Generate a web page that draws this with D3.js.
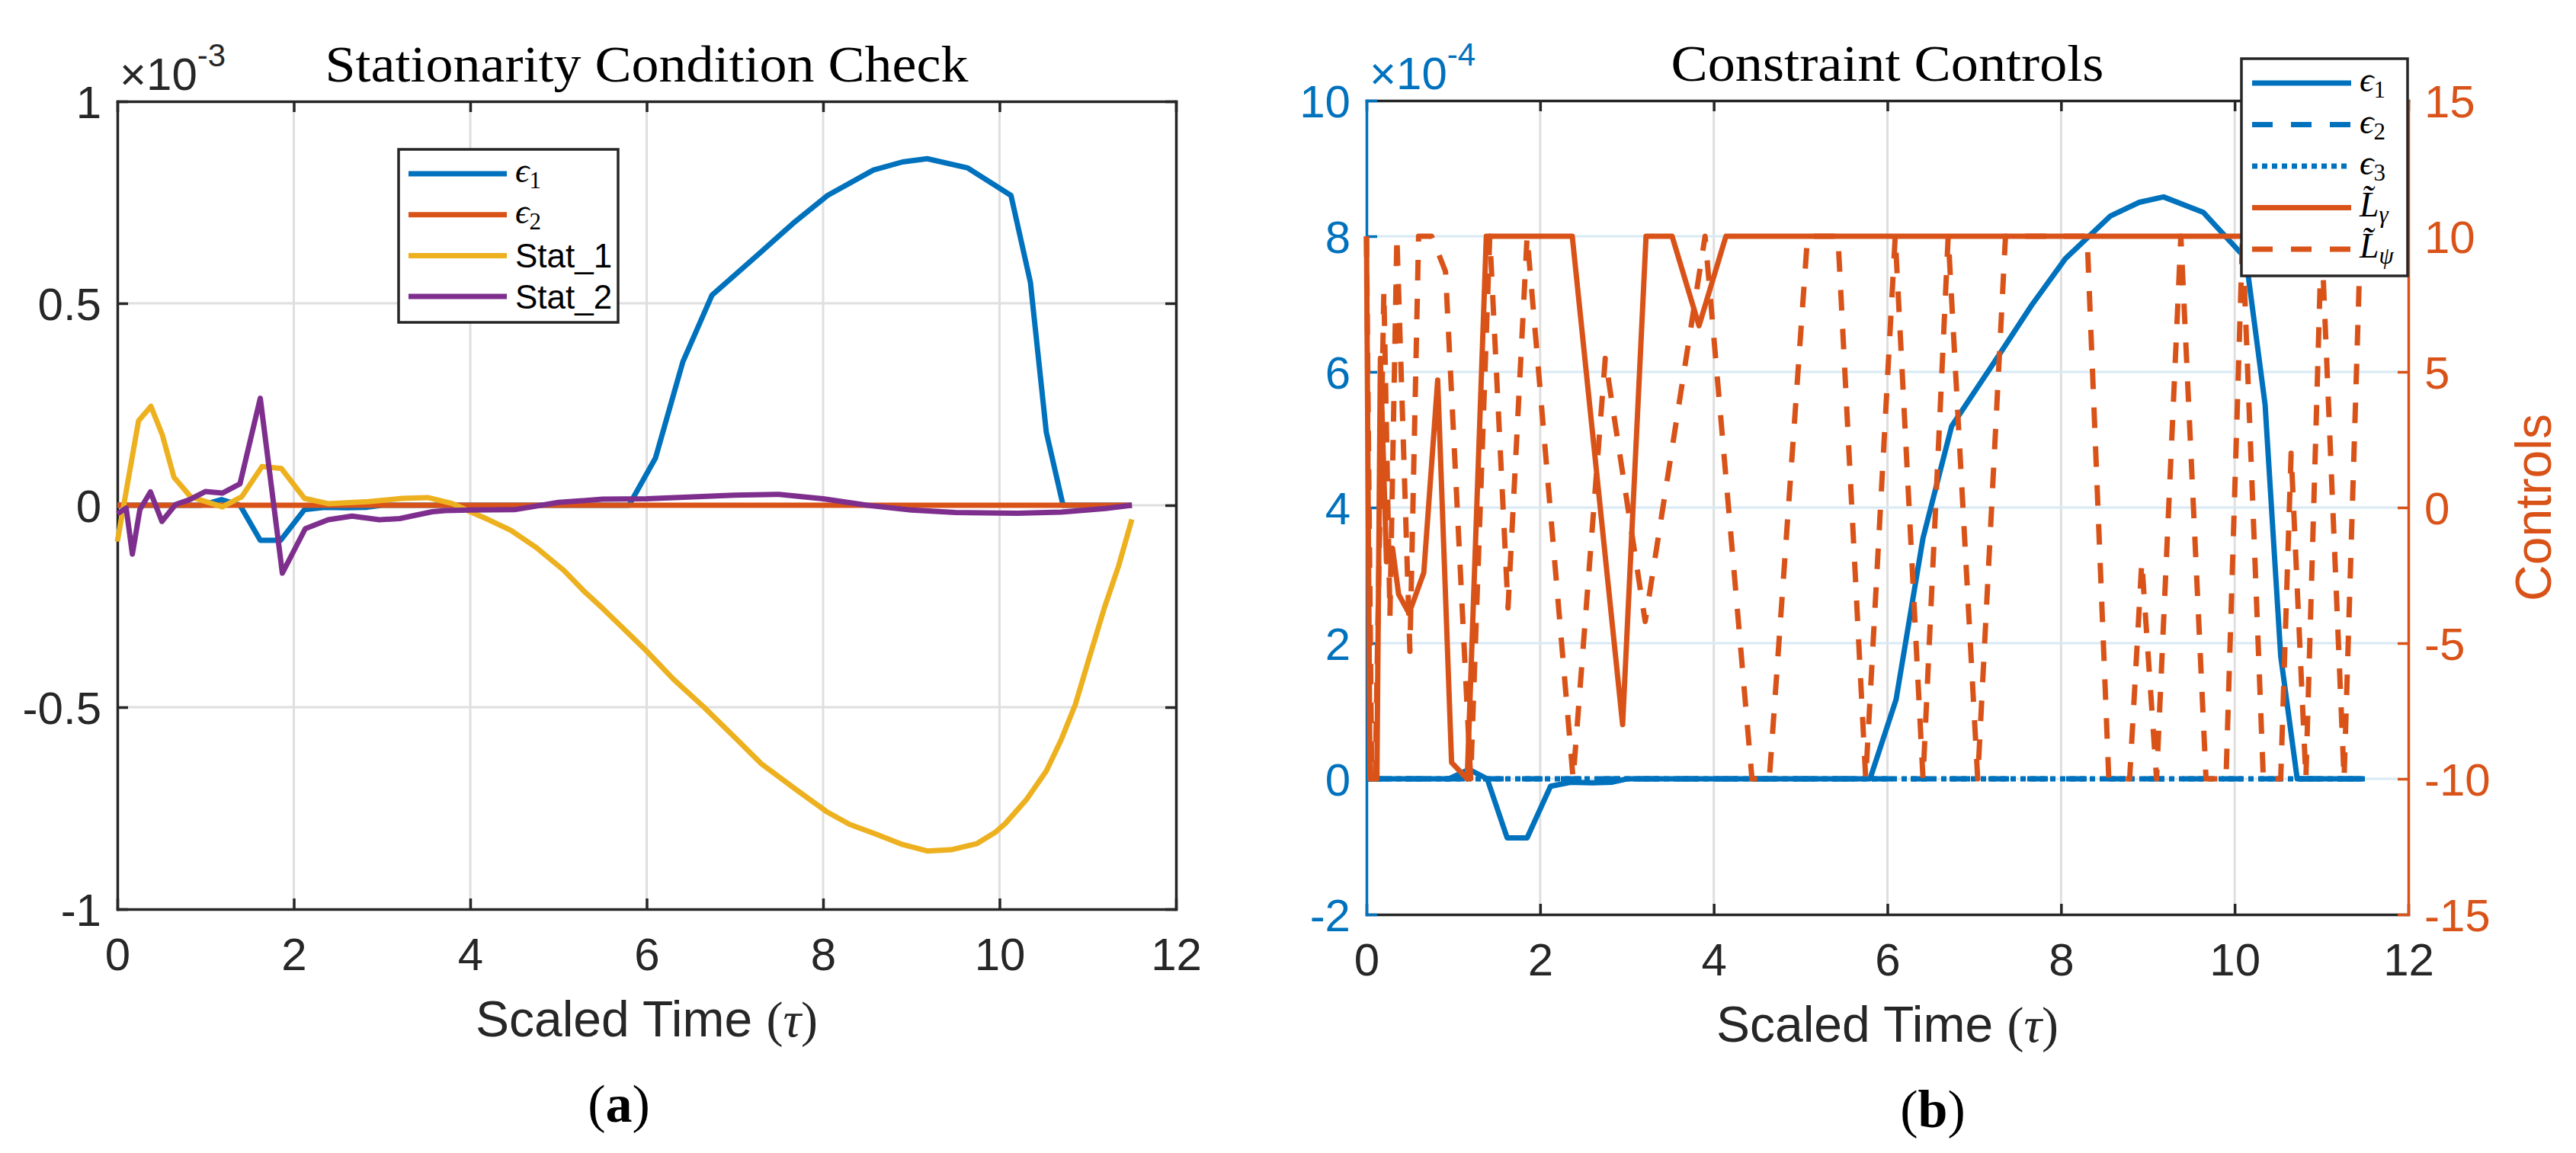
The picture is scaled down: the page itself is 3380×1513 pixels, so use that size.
<!DOCTYPE html>
<html>
<head>
<meta charset="utf-8">
<script src="https://cdn.jsdelivr.net/npm/d3@7"></script>
<style>
body { margin: 0; background: #fff; }
text { font-family: "Liberation Sans", Arial, sans-serif; fill: #262626; }
.serif { font-family: "Liberation Serif", "DejaVu Serif", serif; }
</style>
</head>
<body>
<div id="wrapper"></div>
<script>
// ---- tick values
const timeTicks = [0, 2, 4, 6, 8, 10, 12];
const statTicks = [-1, -0.5, 0, 0.5, 1];
const ctrlLeftTicks = [-2, 0, 2, 4, 6, 8, 10];
const ctrlRightTicks = [-15, -10, -5, 0, 5, 10, 15];

// ---- panel (a), values in units of 1e-3
const eps1T = [0, 0.95, 1.18, 1.39, 1.62, 1.85, 2.12, 2.35, 2.6, 2.83, 3.0, 5.8, 6.1, 6.41, 6.74, 7.26, 7.66, 8.05, 8.57, 8.9, 9.18, 9.64, 10.13, 10.35, 10.53, 10.72, 11.5];
const eps1V = [0, 0, 0.014, 0, -0.087, -0.087, -0.011, -0.005, -0.006, -0.005, 0, 0, 0.117, 0.355, 0.52, 0.62, 0.698, 0.767, 0.83, 0.85, 0.858, 0.835, 0.767, 0.552, 0.181, 0, 0];

const eps2T = [0, 11.5];
const eps2V = [0, 0];

const stat1T = [0, 0.24, 0.38, 0.51, 0.64, 0.83, 1.19, 1.41, 1.64, 1.86, 2.12, 2.39, 2.85, 3.23, 3.52, 3.8, 4.0, 4.2, 4.46, 4.75, 5.06, 5.3, 5.5, 5.99, 6.3, 6.65, 7.0, 7.3, 7.7, 8.05, 8.3, 8.61, 8.9, 9.18, 9.45, 9.74, 9.95, 10.07, 10.3, 10.53, 10.7, 10.86, 11.0, 11.19, 11.35, 11.5];
const stat1V = [-0.09, 0.209, 0.245, 0.174, 0.07, 0.021, -0.004, 0.021, 0.096, 0.091, 0.017, 0.004, 0.009, 0.017, 0.019, 0.004, -0.016, -0.035, -0.062, -0.105, -0.161, -0.215, -0.255, -0.359, -0.43, -0.5, -0.575, -0.64, -0.705, -0.76, -0.79, -0.815, -0.84, -0.856, -0.853, -0.838, -0.81, -0.787, -0.73, -0.658, -0.58, -0.493, -0.39, -0.253, -0.15, -0.035];

const stat2T = [0, 0.1, 0.17, 0.255, 0.375, 0.505, 0.66, 0.82, 1.0, 1.19, 1.39, 1.62, 1.87, 2.13, 2.39, 2.66, 2.97, 3.2, 3.57, 3.72, 4.0, 4.5, 5.0, 5.5, 6.0, 7.0, 7.5, 8.0, 8.5, 9.0, 9.5, 10.2, 10.7, 11.2, 11.5];
const stat2V = [-0.021, -0.007, -0.121, -0.011, 0.033, -0.04, 0.002, 0.014, 0.034, 0.03, 0.053, 0.265, -0.168, -0.058, -0.036, -0.027, -0.036, -0.033, -0.016, -0.013, -0.012, -0.011, 0.007, 0.015, 0.016, 0.025, 0.027, 0.016, 0, -0.012, -0.018, -0.02, -0.017, -0.008, 0];

// ---- panel (b), controls on the right axis
const eps3T = [0, 11.5];
const eps3V = [0, 0];

const lGammaT = [0, 0.04, 0.12, 0.16, 0.23, 0.3, 0.37, 0.49, 0.66, 0.82, 0.98, 1.16, 1.38, 2.37, 2.95, 3.22, 3.52, 3.83, 4.14, 11.5];
const lGammaV = [10, -10, -10, 5.5, -2, -1.5, -3.2, -3.9, -2.4, 4.7, -9.4, -10, 10, 10, -8, 10, 10, 6.7, 10, 10];

const lPsiT = [0, 0.06, 0.1, 0.2, 0.27, 0.35, 0.5, 0.6, 0.75, 0.91, 1.2, 1.42, 1.63, 1.85, 2.38, 2.75, 3.21, 3.9, 4.44, 4.64, 5.08, 5.43, 5.75, 6.09, 6.41, 6.7, 7.04, 7.36, 8.3, 8.55, 8.79, 8.93, 9.1, 9.38, 9.67, 9.9, 10.09, 10.33, 10.53, 10.65, 10.82, 11.0, 11.26, 11.45, 11.5];
const lPsiV = [10, -10, -10, 8, -4, 10, -5.3, 10, 10, 8.7, -10, 10, -3.7, 10, -10, 5.5, -4.2, 10, -10, -10, 10, 10, -10, 10, -10, 10, -10, 10, 10, -10, -10, -2, -10, 10, -10, -10, 10, -10, -10, 2, -10, 10, -10, 10, 10];

const blue = "#0072BD", orange = "#D95319", yellow = "#EDB120", purple = "#7E2F8E";
const dark = "#262626", gridGray = "#dfdfdf", gridBlue = "#d9eaf5";

function zip(ts, vs) {
    return ts.map((t, i) => ({t: t, v: vs[i]}));
}

function styleAxis(g, color, showText) {
    g.attr("color", color)
        .attr("font-family", "Liberation Sans, Arial, sans-serif")
        .attr("font-size", 60);
    g.select(".domain").attr("stroke-width", 3.5).attr("stroke-linecap", "square");
    g.selectAll(".tick line").attr("stroke-width", 3.5);
    if (!showText) g.selectAll(".tick text").remove();
    g.selectAll(".tick text").style("fill", color);
}

function drawPanel(svg, box, x, y, yRight, opts) {
    const g = svg.append("g");

    // grid
    g.append("g").selectAll("line").data(timeTicks.slice(1, -1)).join("line")
        .attr("x1", d => x(d)).attr("x2", d => x(d))
        .attr("y1", box.top).attr("y2", box.bottom)
        .attr("stroke", gridGray).attr("stroke-width", 3);
    g.append("g").selectAll("line").data(opts.yTicks.slice(1, -1)).join("line")
        .attr("x1", box.left).attr("x2", box.right)
        .attr("y1", d => y(d)).attr("y2", d => y(d))
        .attr("stroke", opts.hGrid).attr("stroke-width", 3);

    const fmt = d => String(d);

    const bottom = g.append("g").attr("transform", `translate(0,${box.bottom})`)
        .call(d3.axisBottom(x).tickValues(timeTicks).tickFormat(fmt).tickSizeInner(-14).tickSizeOuter(0));
    styleAxis(bottom, dark, true);
    bottom.selectAll(".tick text").attr("y", 80).attr("dy", null);

    const top = g.append("g").attr("transform", `translate(0,${box.top})`)
        .call(d3.axisTop(x).tickValues(timeTicks).tickSizeInner(-14).tickSizeOuter(0));
    styleAxis(top, dark, false);

    const left = g.append("g").attr("transform", `translate(${box.left},0)`)
        .call(d3.axisLeft(y).tickValues(opts.yTicks).tickFormat(fmt).tickSizeInner(-14).tickSizeOuter(0));
    styleAxis(left, opts.leftColor, true);
    left.selectAll(".tick text").attr("x", -21).attr("dy", "0.35em");

    const right = g.append("g").attr("transform", `translate(${box.right},0)`)
        .call(d3.axisRight(yRight).tickValues(opts.rTicks).tickFormat(fmt).tickSizeInner(-14).tickSizeOuter(0));
    styleAxis(right, opts.rightColor, opts.rightLabels);
    right.selectAll(".tick text").attr("x", 21).attr("dy", "0.35em");

    return g;
}

function drawLine(g, data, x, y, color, dash) {
    const line = d3.line().x(d => x(d.t)).y(d => y(d.v));
    g.append("path").datum(data)
        .attr("d", line)
        .attr("fill", "none")
        .attr("stroke", color)
        .attr("stroke-width", 7)
        .attr("stroke-linejoin", "round")
        .attr("stroke-dasharray", dash || null);
}

function exponent(svg, xPos, yPos, color, power) {
    const t = svg.append("text").attr("x", xPos).attr("y", yPos)
        .style("font-size", "60px").style("fill", color);
    t.append("tspan").text("\u00d710");
    t.append("tspan").attr("dy", -31).style("font-size", "42px").text(power);
}

function title(svg, xPos, yPos, str, len) {
    svg.append("text").attr("class", "serif")
        .attr("x", xPos).attr("y", yPos)
        .attr("text-anchor", "middle")
        .attr("textLength", len).attr("lengthAdjust", "spacingAndGlyphs")
        .style("font-size", "68px").style("fill", "#000")
        .text(str);
}

function xLabel(svg, xPos, yPos) {
    const t = svg.append("text").attr("x", xPos).attr("y", yPos)
        .attr("text-anchor", "middle").style("font-size", "66px");
    t.append("tspan").text("Scaled Time ");
    t.append("tspan").attr("class", "serif").text("(");
    t.append("tspan").attr("class", "serif").style("font-style", "italic").text("\u03c4");
    t.append("tspan").attr("class", "serif").text(")");
}

function panelTag(svg, xPos, yPos, letter) {
    const t = svg.append("text").attr("class", "serif").attr("x", xPos).attr("y", yPos)
        .attr("text-anchor", "middle").style("font-size", "70px").style("fill", "#000");
    t.append("tspan").text("(");
    t.append("tspan").style("font-weight", "bold").text(letter);
    t.append("tspan").text(")");
}

// legend label: main symbol (serif italic or sans) plus optional subscript
function legendLabel(g, xPos, yPos, item) {
    if (item.sans) {
        g.append("text").attr("x", xPos).attr("y", yPos + 16)
            .style("font-size", "44px").style("fill", "#000").text(item.label);
        return;
    }
    const t = g.append("text").attr("class", "serif").attr("x", xPos).attr("y", yPos + 11)
        .style("font-size", "46px").style("fill", "#000");
    t.append("tspan").style("font-style", "italic").text(item.label);
    t.append("tspan").attr("dy", 8).style("font-size", "31px")
        .style("font-style", item.subItalic ? "italic" : "normal").text(item.sub);
}

function legend(svg, box, rows) {
    const g = svg.append("g");
    g.append("rect").attr("x", box.x).attr("y", box.y).attr("width", box.w).attr("height", box.h)
        .attr("fill", "#fff").attr("stroke", dark).attr("stroke-width", 3.5);
    rows.forEach((r, i) => {
        const yy = box.firstRow + i * box.step;
        g.append("line").attr("x1", box.lineX0).attr("x2", box.lineX1)
            .attr("y1", yy).attr("y2", yy)
            .attr("stroke", r.color).attr("stroke-width", 7)
            .attr("stroke-dasharray", r.dash || null);
        legendLabel(g, box.textX, yy, r);
    });
}

function build() {
    const svg = d3.select("#wrapper").append("svg")
        .attr("width", 3380).attr("height", 1513);

    // ---------- (a) Stationarity Condition Check
    const boxA = {left: 154, right: 1543, top: 133, bottom: 1193};
    const xA = d3.scaleLinear().domain([0, 12]).range([boxA.left, boxA.right]);
    const yA = d3.scaleLinear().domain([-1, 1]).range([boxA.bottom, boxA.top]);

    const gA = drawPanel(svg, boxA, xA, yA, yA, {
        yTicks: statTicks, rTicks: statTicks, hGrid: gridGray,
        leftColor: dark, rightColor: dark, rightLabels: false
    });
    drawLine(gA, zip(eps1T, eps1V), xA, yA, blue);
    drawLine(gA, zip(eps2T, eps2V), xA, yA, orange);
    drawLine(gA, zip(stat1T, stat1V), xA, yA, yellow);
    drawLine(gA, zip(stat2T, stat2V), xA, yA, purple);

    exponent(svg, 157, 118, dark, "-3");
    title(svg, (boxA.left + boxA.right) / 2, 107, "Stationarity Condition Check", 844);
    xLabel(svg, (boxA.left + boxA.right) / 2, 1360);
    panelTag(svg, 812, 1472, "a");

    legend(svg, {x: 523, y: 196, w: 288, h: 227, firstRow: 228, step: 53.7, lineX0: 536, lineX1: 665, textX: 676}, [
        {label: "\u03f5", sub: "1", color: blue},
        {label: "\u03f5", sub: "2", color: orange},
        {label: "Stat_1", sans: true, color: yellow},
        {label: "Stat_2", sans: true, color: purple}
    ]);

    // ---------- (b) Constraint Controls
    const boxB = {left: 1793, right: 3160, top: 132, bottom: 1200};
    const xB = d3.scaleLinear().domain([0, 12]).range([boxB.left, boxB.right]);
    const yB = d3.scaleLinear().domain([-2, 10]).range([boxB.bottom, boxB.top]);
    const yBR = d3.scaleLinear().domain([-15, 15]).range([boxB.bottom, boxB.top]);

    const gB = drawPanel(svg, boxB, xB, yB, yBR, {
        yTicks: ctrlLeftTicks, rTicks: ctrlRightTicks, hGrid: gridBlue,
        leftColor: blue, rightColor: orange, rightLabels: true
    });
    // eps1 shown in units of 1e-4 here
    drawLine(gB, zip(eps1T, eps1V.map(v => v * 10)), xB, yB, blue);
    drawLine(gB, zip(eps2T, eps2V), xB, yB, blue, "27,24");
    drawLine(gB, zip(eps3T, eps3V), xB, yB, blue, "7,6");
    drawLine(gB, zip(lGammaT, lGammaV), xB, yBR, orange);
    drawLine(gB, zip(lPsiT, lPsiV), xB, yBR, orange, "27,24");

    exponent(svg, 1797, 117, blue, "-4");
    title(svg, (boxB.left + boxB.right) / 2, 106, "Constraint Controls", 568);
    xLabel(svg, (boxB.left + boxB.right) / 2, 1367);
    panelTag(svg, 2536, 1479, "b");

    svg.append("text")
        .attr("transform", `translate(3347,${(boxB.top + boxB.bottom) / 2}) rotate(-90)`)
        .attr("text-anchor", "middle")
        .style("font-size", "66px").style("fill", orange)
        .text("Controls");

    legend(svg, {x: 2941, y: 77, w: 218, h: 285, firstRow: 109, step: 54.5, lineX0: 2955, lineX1: 3085, textX: 3096}, [
        {label: "\u03f5", sub: "1", color: blue},
        {label: "\u03f5", sub: "2", color: blue, dash: "27,24"},
        {label: "\u03f5", sub: "3", color: blue, dash: "7,6"},
        {label: "L\u0303", sub: "\u03b3", subItalic: true, color: orange},
        {label: "L\u0303", sub: "\u03c8", subItalic: true, color: orange, dash: "27,24"}
    ]);
}

build();
</script>
</body>
</html>
